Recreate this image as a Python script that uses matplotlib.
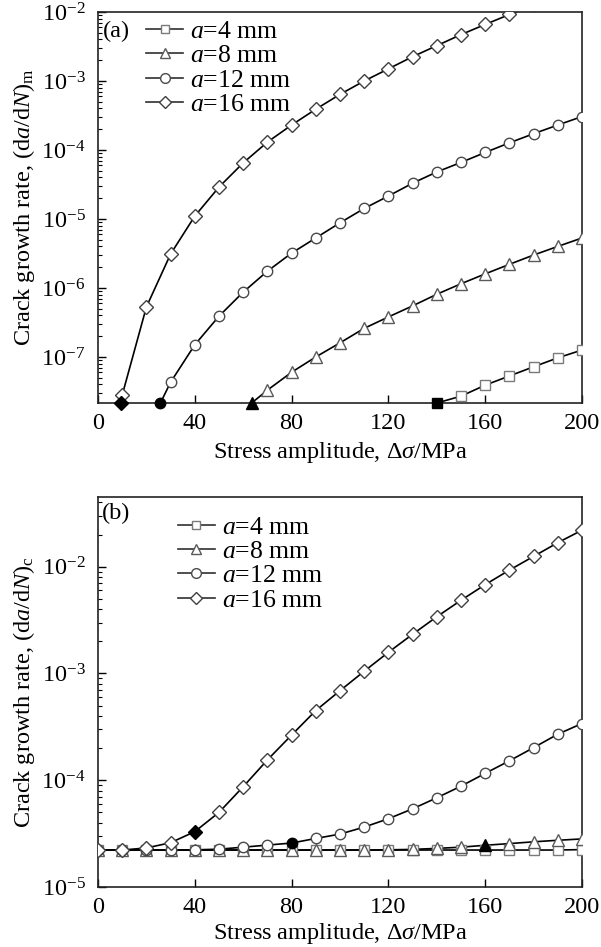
import matplotlib
matplotlib.use("Agg")
import matplotlib.pyplot as plt
from matplotlib.lines import Line2D

plt.rcParams['font.family'] = ['Liberation Serif', 'DejaVu Serif']
plt.rcParams['mathtext.fontset'] = 'custom'
plt.rcParams['mathtext.rm'] = 'Liberation Serif'
plt.rcParams['mathtext.it'] = 'Liberation Serif:italic'
plt.rcParams['mathtext.bf'] = 'Liberation Serif:bold'

# ---------------- data: panel (a) (da/dN)_m ----------------
labels = ['$a$=4 mm', '$a$=8 mm', '$a$=12 mm', '$a$=16 mm']
markers = ['s', '^', 'o', 'D']

# threshold stress (filled marker on the lower axis)
thr_a = [140.0, 63.5, 25.8, 9.7]

x_a4 = [150, 160, 170, 180, 190, 200]
y_a4 = [2.7e-8, 3.9e-8, 5.3e-8, 7.2e-8, 9.7e-8, 1.26e-7]

x_a8 = [70, 80, 90, 100, 110, 120, 130, 140, 150, 160, 170, 180, 190, 200]
y_a8 = [3.3e-8, 6.0e-8, 1.0e-7, 1.6e-7, 2.6e-7, 3.8e-7, 5.5e-7, 8.1e-7,
        1.15e-6, 1.6e-6, 2.2e-6, 3.0e-6, 4.0e-6, 5.3e-6]

x_a12 = [30, 40, 50, 60, 70, 80, 90, 100, 110, 120, 130, 140, 150, 160,
         170, 180, 190, 200]
y_a12 = [4.3e-8, 1.5e-7, 3.9e-7, 8.7e-7, 1.75e-6, 3.2e-6, 5.3e-6, 8.8e-6,
         1.42e-5, 2.15e-5, 3.3e-5, 4.8e-5, 6.6e-5, 9.2e-5, 1.27e-4,
         1.72e-4, 2.3e-4, 3.05e-4]

x_a16 = [10, 20, 30, 40, 50, 60, 70, 80, 90, 100, 110, 120, 130, 140, 150,
         160, 170, 180]
y_a16 = [2.8e-8, 5.3e-7, 3.1e-6, 1.1e-5, 2.9e-5, 6.5e-5, 1.3e-4, 2.3e-4,
         3.9e-4, 6.4e-4, 1.0e-3, 1.5e-3, 2.25e-3, 3.25e-3, 4.7e-3, 6.6e-3,
         9.2e-3, 1.25e-2]

# ---------------- data: panel (b) (da/dN)_c ----------------
x_b = [0, 10, 20, 30, 40, 50, 60, 70, 80, 90, 100, 110, 120, 130, 140, 150,
       160, 170, 180, 190, 200]
yb_a4 = [2.22e-5] * 20 + [2.24e-5]
yb_a8 = [2.22e-5] * 12 + [2.23e-5, 2.25e-5, 2.3e-5, 2.36e-5, 2.46e-5,
                          2.55e-5, 2.65e-5, 2.74e-5, 2.82e-5]
yb_a12 = [2.22e-5, 2.22e-5, 2.22e-5, 2.22e-5, 2.23e-5, 2.26e-5, 2.36e-5,
          2.47e-5, 2.58e-5, 2.85e-5, 3.13e-5, 3.64e-5, 4.36e-5, 5.4e-5,
          6.85e-5, 8.8e-5, 1.16e-4, 1.52e-4, 2.02e-4, 2.7e-4, 3.4e-4]
yb_a16 = [2.22e-5, 2.22e-5, 2.32e-5, 2.6e-5, 3.3e-5, 5.0e-5, 8.7e-5,
          1.55e-4, 2.65e-4, 4.5e-4, 6.9e-4, 1.05e-3, 1.58e-3, 2.33e-3,
          3.4e-3, 4.85e-3, 6.8e-3, 9.3e-3, 1.25e-2, 1.68e-2, 2.2e-2]
# stress at which the filled marker is drawn in (b)
filled_b = [None, 160, 80, 40]

ylim_a = (2.15e-8, 1e-2)
ylim_b = (1e-5, 4.5e-2)

edge_cols = ['#7a7a7a', '#5a5a5a', '#4a4a4a', '#404040']
msizes = [6.5, 8, 7.5, 7]

fig = plt.figure(figsize=(6.01, 9.47), dpi=100)
ax1 = fig.add_axes([98 / 601, 1 - 403 / 947, 484 / 601, 391 / 947])
ax2 = fig.add_axes([98 / 601, 1 - 887 / 947, 484 / 601, 390 / 947])

FS = 17.5
LFS = 18.5

# panel (a)
xs_a = [x_a4, x_a8, x_a12, x_a16]
ys_a = [y_a4, y_a8, y_a12, y_a16]
for i in range(4):
    xx = [thr_a[i]] + xs_a[i]
    yy = [ylim_a[0]] + ys_a[i]
    ax1.plot(xx, yy, color='black', lw=1.2, zorder=2)
    ax1.plot(xs_a[i], ys_a[i], ls='none', marker=markers[i],
             ms=msizes[i], mfc='white', mec=edge_cols[i], mew=1.0,
             zorder=3)
    ax1.plot([thr_a[i]], [ylim_a[0]], ls='none', marker=markers[i],
             ms=msizes[i], mfc='black', mec='black', clip_on=False, zorder=4)

# panel (b)
ys_b = [yb_a4, yb_a8, yb_a12, yb_a16]
for i in range(4):
    ax2.plot(x_b, ys_b[i], color='black', lw=1.2, zorder=2)
    xo = [x for x in x_b if x != filled_b[i]]
    yo = [y for x, y in zip(x_b, ys_b[i]) if x != filled_b[i]]
    ax2.plot(xo, yo, ls='none', marker=markers[i], ms=msizes[i],
             mfc='white', mec=edge_cols[i], mew=1.0, zorder=3 + i)
    if filled_b[i] is not None:
        k = x_b.index(filled_b[i])
        ax2.plot([x_b[k]], [ys_b[i][k]], ls='none', marker=markers[i],
                 ms=msizes[i], mfc='black', mec='black', zorder=8)

leg_handles = [Line2D([0], [0], color='#303030', lw=1.2, marker=markers[i],
                      ms=msizes[i] - 0.5, mfc='white', mec=edge_cols[i],
                      mew=1.0) for i in range(4)]

for ax, ylim, sub, lab, lpos, spos, xlab_y in [
        (ax1, ylim_a, 'm', '(a)', (0.099, 0.979), (0.01, 0.949), -0.095),
        (ax2, ylim_b, 'c', '(b)', (0.165, 0.952), (0.008, 0.959), -0.086)]:
    ax.set_yscale('log')
    ax.set_xlim(0, 200)
    ax.set_ylim(*ylim)
    ax.set_xticks([0, 40, 80, 120, 160, 200])
    ax.tick_params(axis='both', which='major', direction='in', length=6,
                   width=1.0, labelsize=FS, top=False, right=False)
    ax.tick_params(axis='x', which='major', pad=7)
    ax.tick_params(axis='y', which='major', pad=9)
    ax.tick_params(axis='y', which='minor', direction='in', length=3,
                   width=0.8, right=False)
    ax.tick_params(axis='x', which='minor', bottom=False, top=False)
    for s in ax.spines.values():
        s.set_linewidth(1.2)
        s.set_color('#222222')
    ax.set_xlabel('Stress amplitude, $\\Delta\\sigma$/MPa', fontsize=FS)
    ax.set_ylabel('Crack growth rate, (d$a$/d$N$)$_{\\rm %s}$' % sub,
                  fontsize=FS)
    ax.yaxis.set_label_coords(-0.126, 0.5)
    ax.xaxis.set_label_coords(0.5, xlab_y)
    ax.text(spos[0], spos[1], lab, transform=ax.transAxes, fontsize=FS,
            ha='left', va='center')
    ax.legend(leg_handles, labels, loc='upper left', bbox_to_anchor=lpos,
              frameon=False, fontsize=LFS, handlelength=1.45,
              handletextpad=0.28, labelspacing=0.05, borderpad=0,
              borderaxespad=0)

fig.savefig('out.png', dpi=100)
